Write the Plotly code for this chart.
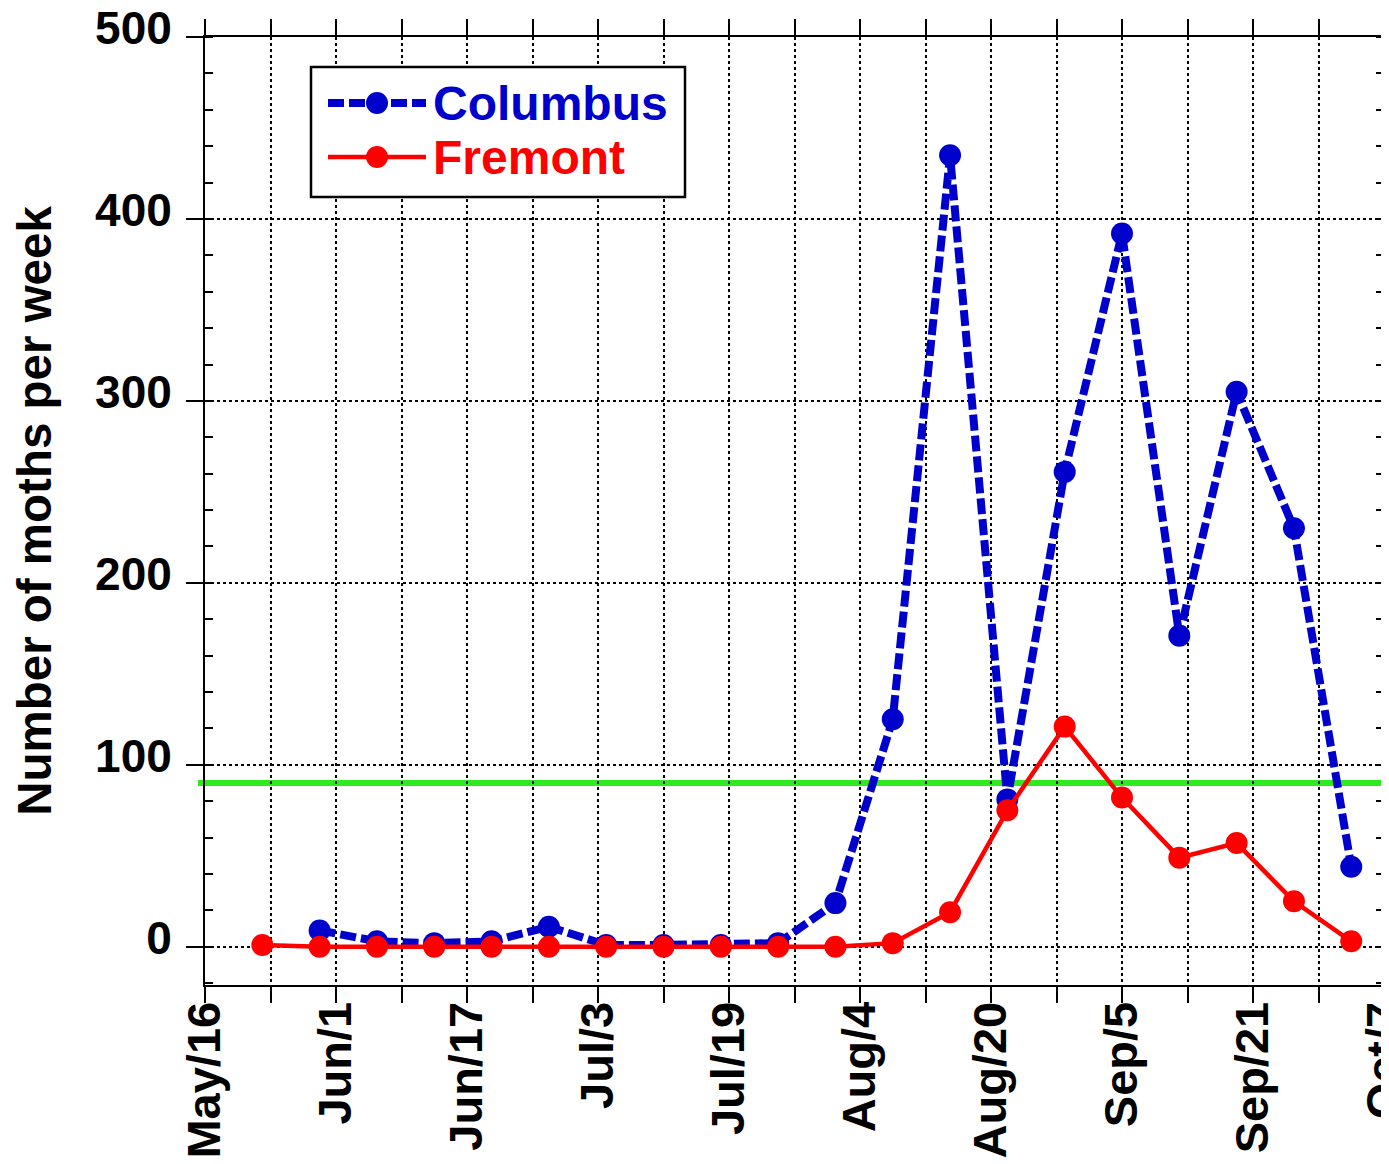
import plotly.graph_objects as go

# ---------------- data ----------------
columbus_dates = ["2000-05-30", "2000-06-06", "2000-06-13", "2000-06-20", "2000-06-27",
                  "2000-07-04", "2000-07-11", "2000-07-18", "2000-07-25", "2000-08-01",
                  "2000-08-08", "2000-08-15", "2000-08-22", "2000-08-29", "2000-09-05",
                  "2000-09-12", "2000-09-19", "2000-09-26", "2000-10-03"]
columbus_values = [9, 3, 2, 3, 11, 1, 1, 1, 2, 24, 125, 435, 81, 261, 392, 171, 305, 230, 44]

fremont_dates = ["2000-05-23", "2000-05-30", "2000-06-06", "2000-06-13", "2000-06-20",
                 "2000-06-27", "2000-07-04", "2000-07-11", "2000-07-18", "2000-07-25",
                 "2000-08-01", "2000-08-08", "2000-08-15", "2000-08-22", "2000-08-29",
                 "2000-09-05", "2000-09-12", "2000-09-19", "2000-09-26", "2000-10-03"]
fremont_values = [1, 0, 0, 0, 0, 0, 0, 0, 0, 0, 0, 2, 19, 75, 121, 82, 49, 57, 25, 3]

threshold = 90

x_tick_vals = ["2000-05-16", "2000-05-24", "2000-06-01", "2000-06-09", "2000-06-17",
               "2000-06-25", "2000-07-03", "2000-07-11", "2000-07-19", "2000-07-27",
               "2000-08-04", "2000-08-12", "2000-08-20", "2000-08-28", "2000-09-05",
               "2000-09-13", "2000-09-21", "2000-09-29", "2000-10-07"]
x_tick_text = ["May/16", "", "Jun/1", "", "Jun/17", "", "Jul/3", "", "Jul/19", "",
               "Aug/4", "", "Aug/20", "", "Sep/5", "", "Sep/21", "", "Oct/7"]
y_tick_vals = [0, 100, 200, 300, 400, 500]

series_names = ["Columbus", "Fremont"]

# ---------------- style ----------------
BLUE = "#0000CC"
RED = "#FF0000"
GREEN = "#2EEA1E"
FONT = "Liberation Sans, Arial, sans-serif"
BLUE_DASH = "16px,5px"

# page body has an 8px default margin, so the figure is offset by 8px
FIG_W, FIG_H = 1381, 1156
M_L, M_R, M_T, M_B = 197, 5, 29, 179

fig = go.Figure()

fig.add_trace(go.Scatter(
    x=columbus_dates, y=columbus_values, name=series_names[0],
    mode="lines+markers",
    line=dict(color=BLUE, width=8, dash=BLUE_DASH),
    marker=dict(color=BLUE, size=22, symbol="circle"),
    showlegend=False,
))
fig.add_trace(go.Scatter(
    x=fremont_dates, y=fremont_values, name=series_names[1],
    mode="lines+markers",
    line=dict(color=RED, width=4.5),
    marker=dict(color=RED, size=22, symbol="circle"),
    showlegend=False,
))

# threshold line
fig.add_shape(type="line", xref="paper", yref="y", x0=-0.006, x1=1.01,
              y0=threshold, y1=threshold, line=dict(color=GREEN, width=6),
              layer="between")

# ---------- manual legend (paper coordinates) ----------
px0, pw = 205, 1179
py0, ph = 985, 948


def PX(p):
    return (p - px0) / pw


def PY(p):
    return (py0 - p) / ph


fig.add_shape(type="rect", xref="paper", yref="paper",
              x0=PX(311), x1=PX(685), y0=PY(197), y1=PY(67),
              line=dict(color="black", width=2.5), fillcolor="white", layer="above")

legend_rows = [(series_names[0], BLUE, 8, BLUE_DASH, 103),
               (series_names[1], RED, 4.5, "solid", 157)]
for name, col, w, dash, yy in legend_rows:
    fig.add_shape(type="line", xref="paper", yref="paper",
                  x0=PX(328), x1=PX(426), y0=PY(yy), y1=PY(yy),
                  line=dict(color=col, width=w, dash=dash), layer="above")
    fig.add_shape(type="circle", xref="paper", yref="paper",
                  xsizemode="pixel", ysizemode="pixel",
                  xanchor=PX(377), yanchor=PY(yy),
                  x0=-11, x1=11, y0=-11, y1=11,
                  line=dict(width=0), fillcolor=col, layer="above")
    fig.add_annotation(xref="paper", yref="paper", x=PX(431), y=PY(yy),
                       xanchor="left", yanchor="middle", showarrow=False,
                       text=name, font=dict(family=FONT, size=48, color=col, weight="bold"))

fig.update_layout(
    width=FIG_W, height=FIG_H,
    margin=dict(l=M_L, r=M_R, t=M_T, b=M_B),
    paper_bgcolor="white", plot_bgcolor="white",
    showlegend=False,
    font=dict(family=FONT, size=46, color="black", weight="bold"),
)

fig.update_xaxes(
    type="date",
    range=["2000-05-16", "2000-10-07"],
    tickmode="array", tickvals=x_tick_vals, ticktext=x_tick_text,
    tickangle=-90,
    tickfont=dict(family=FONT, size=47, color="black", weight="bold"),
    ticklabelstandoff=-20, ticklabeloverflow="allow",
    ticks="outside", ticklen=16, tickwidth=2, tickcolor="black",
    showline=True, linecolor="black", linewidth=2, mirror="ticks",
    showgrid=True, gridcolor="black", gridwidth=1.5, griddash="dot",
    zeroline=False, automargin=False,
)
fig.update_yaxes(
    range=[-21, 500],
    tickmode="array", tickvals=y_tick_vals,
    tickfont=dict(family=FONT, size=46, color="black", weight="bold"),
    ticks="outside", ticklen=17, tickwidth=2, tickcolor="black",
    ticklabelstandoff=5, ticklabelshift=-9, ticklabeloverflow="allow",
    minor=dict(ticks="inside", dtick=20, ticklen=8, tickwidth=2, tickcolor="black", showgrid=False),
    showline=True, linecolor="black", linewidth=2, mirror="ticks",
    showgrid=True, gridcolor="black", gridwidth=1.5, griddash="dot",
    zeroline=False, automargin=False,
    title=dict(text="Number of moths per week", standoff=43,
               font=dict(family=FONT, size=47.5, color="black", weight="bold")),
)

fig.write_html("out.html")
